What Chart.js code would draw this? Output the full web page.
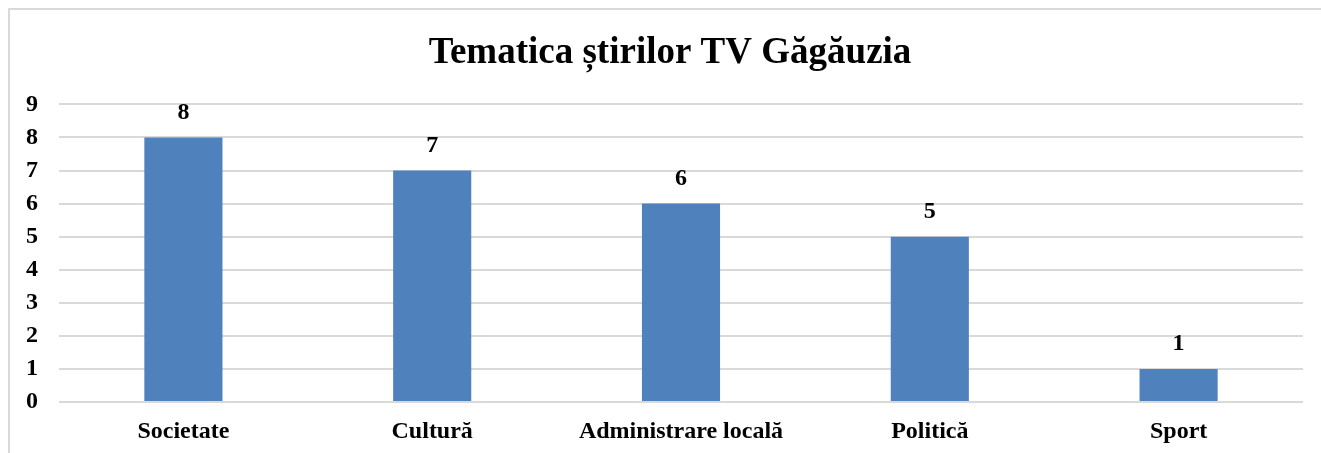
<!DOCTYPE html>
<html>
<head>
<meta charset="utf-8">
<script src="https://cdn.jsdelivr.net/npm/chart.js@4/dist/chart.umd.min.js"></script>
<style>
  html, body { margin: 0; padding: 0; background: #fff; }
  #wrap { position: relative; width: 1321px; height: 453px; overflow: hidden; }
  #frame { position: absolute; left: 8px; top: 8px; width: 1400px; height: 500px;
           border-top: 2px solid #d9d9d9; border-left: 2px solid #d9d9d9; }
  canvas { position: absolute; left: 0; top: 0; }
</style>
</head>
<body>
<div id="wrap">
  <div id="frame"></div>
  <canvas id="chart" width="1321" height="453"></canvas>
</div>
<script>
const titleText = 'Tematica știrilor TV Găgăuzia'
const categories = ['Societate', 'Cultură', 'Administrare locală', 'Politică', 'Sport']
const values = [8, 7, 6, 5, 1]
const yTicks = [0, 1, 2, 3, 4, 5, 6, 7, 8, 9]

const serif = "'Liberation Serif', 'Times New Roman', serif"

// draw the value above each bar
const valueLabels = {
    id: 'valueLabels',
    afterDatasetsDraw(chart) {
        const ctx = chart.ctx
        const meta = chart.getDatasetMeta(0)
        ctx.save()
        ctx.font = `bold 24px ${serif}`
        ctx.fillStyle = '#000'
        ctx.textAlign = 'center'
        ctx.textBaseline = 'middle'
        meta.data.forEach((bar, i) => {
            ctx.fillText(String(values[i]), bar.x, bar.y - 25)
        })
        ctx.restore()
    }
}

// the title sits centred on the whole frame, not only left of the plot
const shiftTitle = {
    id: 'shiftTitle',
    afterLayout(chart) {
        if (chart.titleBlock) chart.titleBlock.left += 37
    }
}

new Chart(document.getElementById('chart'), {
    type: 'bar',
    data: {
        labels: categories,
        datasets: [{
            data: values,
            backgroundColor: '#4f81bd',
            categoryPercentage: 1,
            barPercentage: 0.314
        }]
    },
    options: {
        responsive: false,
        animation: false,
        layout: {
            padding: { left: 0, right: 18, top: 0, bottom: 8 }
        },
        plugins: {
            legend: { display: false },
            tooltip: { enabled: false },
            title: {
                display: true,
                text: titleText,
                color: '#000',
                font: { family: serif, size: 37, weight: 'bold' },
                padding: { top: 31, bottom: 29 }
            }
        },
        scales: {
            x: {
                afterFit(scale) { scale.height = 43 },
                grid: { display: false, drawTicks: false },
                border: { display: false },
                ticks: {
                    color: '#000',
                    padding: 15,
                    font: { family: serif, size: 24, weight: 'bold' }
                }
            },
            y: {
                min: 0,
                max: 9,
                afterFit(scale) { scale.width = 59 },
                afterBuildTicks(scale) { scale.ticks = yTicks.map(v => ({ value: v })) },
                border: { display: false },
                grid: { color: '#d9d9d9', lineWidth: 2, drawTicks: false },
                ticks: {
                    color: '#000',
                    padding: 21,
                    autoSkip: false,
                    font: { family: serif, size: 24, weight: 'bold' }
                }
            }
        }
    },
    plugins: [valueLabels, shiftTitle]
})
</script>
</body>
</html>
